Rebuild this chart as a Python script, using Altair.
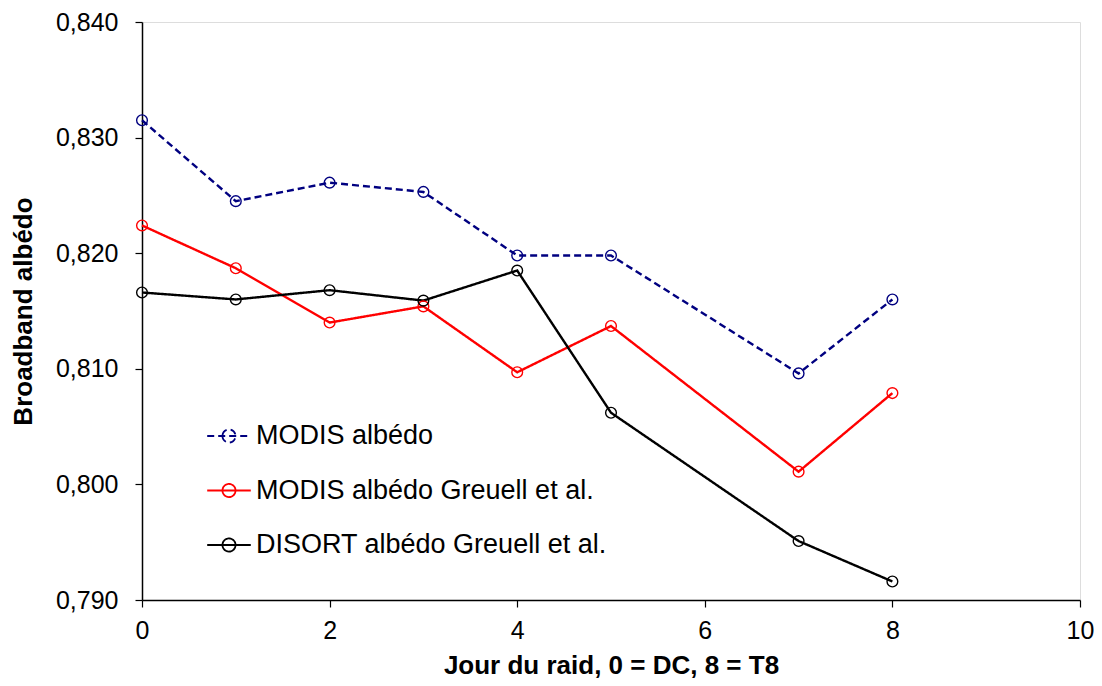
import altair as alt
import pandas as pd

days = [0, 1, 2, 3, 4, 5, 7, 8]
modis = [0.8315, 0.8245, 0.8261, 0.8253, 0.8198, 0.8198, 0.8096, 0.8160]
modis_greuell = [0.8224, 0.8187, 0.8140, 0.8154, 0.8097, 0.8137, 0.8011, 0.8079]
disort_greuell = [0.8166, 0.8160, 0.8168, 0.8159, 0.8185, 0.8062, 0.7951, 0.7916]

series_names = ["MODIS albédo", "MODIS albédo Greuell et al.", "DISORT albédo Greuell et al."]
series_colors = ["#000080", "#ff0000", "#000000"]
series_dash = [[7, 4], [1, 0], [1, 0]]

x_ticks = [0, 2, 4, 6, 8, 10]
y_ticks = [0.79, 0.80, 0.81, 0.82, 0.83, 0.84]

rows = []
for name, vals in zip(series_names, [modis, modis_greuell, disort_greuell]):
    for d, v in zip(days, vals):
        rows.append({"jour": d, "albedo": v, "serie": name})
df = pd.DataFrame(rows)

font = "Liberation Sans"

x_enc = alt.X("jour:Q", scale=alt.Scale(domain=[0, 10], nice=False),
              axis=alt.Axis(values=x_ticks, format="d", title="Jour du raid, 0 = DC, 8 = T8",
                            grid=False, tickSize=7, labelPadding=11, titlePadding=9,
                            labelFlush=False,
                            labelFontSize=25, titleFontSize=26, titleFontWeight="bold",
                            domainColor="black", tickColor="black", labelColor="black",
                            titleColor="black", labelFont=font, titleFont=font,
                            domainWidth=1.5, tickWidth=1.2))
y_enc = alt.Y("albedo:Q", scale=alt.Scale(domain=[0.79, 0.84], nice=False, zero=False),
              axis=alt.Axis(values=y_ticks, title="Broadband albédo",
                            labelExpr="replace(format(datum.value, '.3f'), '.', ',')",
                            grid=False, tickSize=7, labelPadding=17, titlePadding=19,
                            labelFontSize=25, titleFontSize=26, titleFontWeight="bold",
                            domainColor="black", tickColor="black", labelColor="black",
                            titleColor="black", labelFont=font, titleFont=font,
                            domainWidth=1.5, tickWidth=1.2))

symbol_path = ("M-1,0L1,0 M-0.3,0 A0.3,0.3 0 1,0 0.3,0 "
               "A0.3,0.3 0 1,0 -0.3,0")

legend_cfg = dict(title=None, orient="none", legendX=64, legendY=391,
                  symbolType=symbol_path, symbolSize=1900,
                  symbolStrokeWidth=1.8, symbolFillColor="transparent",
                  labelFontSize=27, labelFont=font, labelColor="black",
                  labelLimit=700, rowPadding=18.5, labelOffset=4)

lines = alt.Chart(df).mark_line(strokeWidth=2.4).encode(
    x=x_enc, y=y_enc,
    color=alt.Color("serie:N", scale=alt.Scale(domain=series_names, range=series_colors),
                    legend=alt.Legend(**legend_cfg)),
    strokeDash=alt.StrokeDash("serie:N", scale=alt.Scale(domain=series_names, range=series_dash),
                              legend=alt.Legend(**legend_cfg)),
    detail="serie:N",
)

points = alt.Chart(df).mark_point(shape="circle", filled=False, size=115,
                                  strokeWidth=1.4, opacity=1).encode(
    x="jour:Q", y="albedo:Q",
    color=alt.Color("serie:N", scale=alt.Scale(domain=series_names, range=series_colors),
                    legend=None),
)

chart = alt.layer(lines, points).properties(
    width=938, height=578,
    autosize=alt.AutoSizeParams(type="none"),
    padding={"left": 134, "top": 14, "right": 14, "bottom": 86},
).configure_view(stroke="#a6a6a6", strokeWidth=2).configure(background="white")

chart.save("out.html", embed_options={"renderer": "svg", "actions": False})
